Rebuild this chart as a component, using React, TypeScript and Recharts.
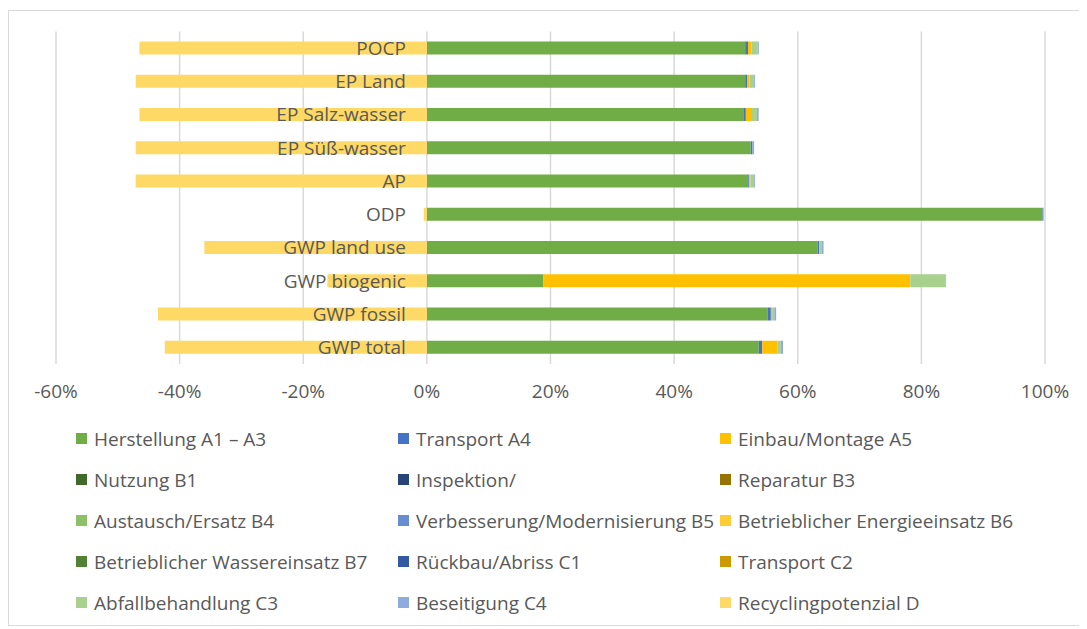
import React from 'react';
import { BarChart, Bar, XAxis, YAxis, CartesianGrid, Legend } from 'recharts';

const FONT = '"Open Sans", "Noto Sans", sans-serif';
const TEXT = '#595959';
const FS = 19;

// Excel lists categories bottom-up; YAxis is reversed below
const categories = ['GWP total', 'GWP fossil', 'GWP biogenic', 'GWP land use', 'ODP', 'AP', 'EP Süß-wasser', 'EP Salz-wasser', 'EP Land', 'POCP'];

// shares in percent
const herstellung = [53.7, 55.1, 18.8, 63.2, 99.6, 52.0, 52.4, 51.2, 51.5, 51.5];
const transportA4 = [0.55, 0.55, 0, 0.27, 0.1, 0.15, 0.27, 0.4, 0.3, 0.45];
const einbauA5 = [2.5, 0.2, 59.4, 0, 0, 0.2, 0, 1.0, 0.4, 0.55];
const nutzungB1 = [0, 0, 0, 0, 0, 0, 0, 0, 0, 0];
const inspektionB2 = [0, 0, 0, 0, 0, 0, 0, 0, 0, 0];
const reparaturB3 = [0, 0, 0, 0, 0, 0, 0, 0, 0, 0];
const austauschB4 = [0, 0, 0, 0, 0, 0, 0, 0, 0, 0];
const verbesserungB5 = [0, 0, 0, 0, 0, 0, 0, 0, 0, 0];
const energieB6 = [0, 0, 0, 0, 0, 0, 0, 0, 0, 0];
const wasserB7 = [0, 0, 0, 0, 0, 0, 0, 0, 0, 0];
const rueckbauC1 = [0, 0, 0, 0, 0, 0, 0, 0, 0, 0];
const transportC2 = [0, 0, 0, 0, 0, 0, 0, 0, 0, 0];
const abfallC3 = [0.5, 0.35, 5.7, 0.43, 0, 0.6, 0, 0.8, 0.75, 1.0];
const beseitigungC4 = [0.37, 0.3, 0.1, 0.27, 0.1, 0.15, 0.27, 0.27, 0.15, 0.2];
const recyclingD = [-42.4, -43.5, -16.1, -36.0, -0.5, -47.1, -47.1, -46.5, -47.1, -46.5];

const xTicks = [-60, -40, -20, 0, 20, 40, 60, 80, 100];

const series = [
  { key: 'a1a3', name: 'Herstellung A1 – A3', color: '#70AD47', values: herstellung },
  { key: 'a4', name: 'Transport A4', color: '#4472C4', values: transportA4 },
  { key: 'a5', name: 'Einbau/Montage A5', color: '#FFC000', values: einbauA5 },
  { key: 'b1', name: 'Nutzung B1', color: '#43682B', values: nutzungB1 },
  { key: 'b2', name: 'Inspektion/', color: '#264478', values: inspektionB2 },
  { key: 'b3', name: 'Reparatur B3', color: '#997300', values: reparaturB3 },
  { key: 'b4', name: 'Austausch/Ersatz B4', color: '#8CC168', values: austauschB4 },
  { key: 'b5', name: 'Verbesserung/Modernisierung B5', color: '#698ED0', values: verbesserungB5 },
  { key: 'b6', name: 'Betrieblicher Energieeinsatz B6', color: '#FFCD33', values: energieB6 },
  { key: 'b7', name: 'Betrieblicher Wassereinsatz B7', color: '#548235', values: wasserB7 },
  { key: 'c1', name: 'Rückbau/Abriss C1', color: '#335AA1', values: rueckbauC1 },
  { key: 'c2', name: 'Transport C2', color: '#CC9A00', values: transportC2 },
  { key: 'c3', name: 'Abfallbehandlung C3', color: '#A9D18E', values: abfallC3 },
  { key: 'c4', name: 'Beseitigung C4', color: '#8FAADC', values: beseitigungC4 },
  { key: 'd', name: 'Recyclingpotenzial D', color: '#FFD966', values: recyclingD },
];

const data = categories.map((name, i) => {
  const row: Record<string, any> = { name };
  series.forEach((s) => { row[s.key] = s.values[i]; });
  return row;
});

const W = 1077;
const H = 614;
const margin = { top: 20.5, right: 41, bottom: 0, left: 46 };
const Y_W = 1;
const plotWidth = W - margin.left - margin.right - Y_W;
// category labels sit next to the 0% line, like Excel does
const zeroOffset = (plotWidth * (0 - xTicks[0])) / (xTicks[xTicks.length - 1] - xTicks[0]);

const CategoryTick = (props: any) => {
  const { x, y, payload } = props;
  return (
    <text x={x + zeroOffset - 21} y={y} dy="0.36em" textAnchor="end" fill={TEXT} fontSize={FS} fontFamily={FONT}>
      {payload.value}
    </text>
  );
};

const LegendBox = () => (
  <div
    style={{
      height: 211,
      boxSizing: 'border-box',
      paddingTop: 4,
      paddingLeft: 67,
      display: 'grid',
      gridTemplateColumns: '322px 322px 330px',
      gridAutoRows: '41px',
      fontFamily: FONT,
      fontSize: FS,
      color: TEXT,
    }}
  >
    {series.map((s) => (
      <div key={s.key} style={{ display: 'flex', alignItems: 'center', whiteSpace: 'nowrap' }}>
        <span style={{ width: 11, height: 11, background: s.color, marginRight: 7, flex: 'none' }} />
        {s.name}
      </div>
    ))}
  </div>
);

export default function App() {
  return (
    <div style={{ width: W, height: H, border: '1px solid #d9d9d9', marginTop: 2, background: '#fff' }}>
      <BarChart width={W} height={H} data={data} layout="vertical" stackOffset="sign" margin={margin}>
        <CartesianGrid horizontal={false} stroke="#d9d9d9" strokeWidth={1.5} />
        <XAxis
          type="number"
          domain={[xTicks[0], xTicks[xTicks.length - 1]]}
          ticks={xTicks}
          tickFormatter={(v: number) => `${v}%`}
          axisLine={false}
          tickLine={false}
          tickSize={0}
          tickMargin={21}
          height={50}
          tick={{ fill: TEXT, fontSize: FS, fontFamily: FONT }}
          interval={0}
        />
        {series.map((s) => (
          <Bar key={s.key} dataKey={s.key} name={s.name} stackId="lca" fill={s.color} barSize={13} isAnimationActive={false} />
        ))}
        <YAxis
          type="category"
          dataKey="name"
          reversed
          width={Y_W}
          axisLine={false}
          tickLine={false}
          tickSize={0}
          tickMargin={0}
          interval={0}
          tick={<CategoryTick />}
        />
        <Legend verticalAlign="bottom" content={<LegendBox />} wrapperStyle={{ left: 0, width: W }} />
      </BarChart>
    </div>
  );
}
